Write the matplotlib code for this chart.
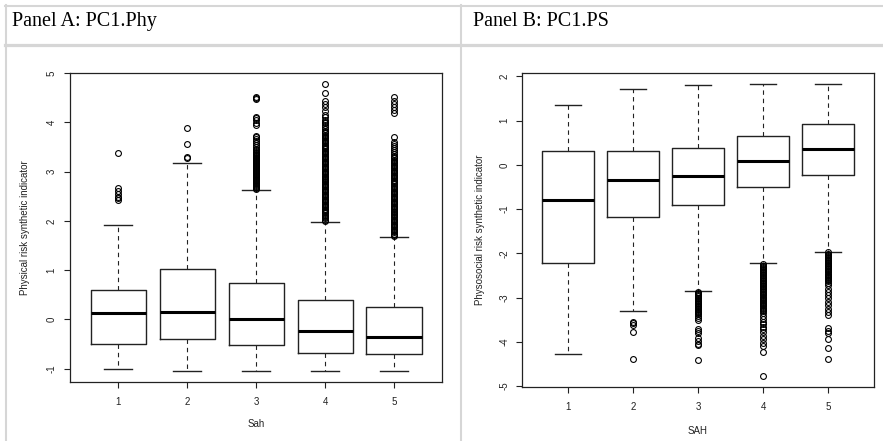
import matplotlib
matplotlib.use("Agg")
import matplotlib.pyplot as plt
from matplotlib.lines import Line2D

plt.rcParams['font.family'] = ['Liberation Sans', 'DejaVu Sans']

# ---- data: box statistics ----
groups = [1, 2, 3, 4, 5]

# Panel A: PC1.Phy
phy_q1 = [-0.50, -0.40, -0.53, -0.68, -0.71]
phy_med = [0.13, 0.14, 0.01, -0.24, -0.36]
phy_q3 = [0.60, 1.03, 0.73, 0.40, 0.24]
phy_lo = [-1.00, -1.05, -1.05, -1.05, -1.05]
phy_hi = [1.91, 3.17, 2.62, 1.98, 1.67]
phy_fliers = [
    [2.43, 2.46, 2.49, 2.55, 2.60, 2.66, 3.37],
    [3.27, 3.30, 3.56, 3.88],
    [2.64, 2.66, 2.68, 2.70, 2.72, 2.74, 2.76, 2.78, 2.80, 2.82, 2.84, 2.86,
     2.88, 2.90, 2.92, 2.94, 2.96, 2.98, 3.00, 3.02, 3.04, 3.06, 3.08, 3.10,
     3.12, 3.14, 3.16, 3.18, 3.20, 3.22, 3.24, 3.26, 3.28, 3.30, 3.32, 3.34,
     3.36, 3.38, 3.40, 3.43, 3.46, 3.50, 3.54, 3.58, 3.62, 3.66, 3.70, 3.72,
     3.95, 3.99, 4.04, 4.08, 4.11, 4.48, 4.50, 4.52],
    [2.00, 2.02, 2.05, 2.08, 2.10, 2.12, 2.15, 2.18, 2.20, 2.22, 2.25, 2.28,
     2.30, 2.32, 2.35, 2.38, 2.40, 2.42, 2.45, 2.48, 2.50, 2.52, 2.55, 2.58,
     2.60, 2.62, 2.65, 2.68, 2.70, 2.72, 2.75, 2.78, 2.80, 2.82, 2.85, 2.88,
     2.90, 2.92, 2.95, 2.98, 3.00, 3.02, 3.05, 3.08, 3.10, 3.12, 3.15, 3.18,
     3.20, 3.22, 3.25, 3.28, 3.30, 3.32, 3.35, 3.38, 3.40, 3.42, 3.45, 3.48,
     3.50, 3.52, 3.55, 3.58, 3.60, 3.62, 3.65, 3.68, 3.70, 3.72, 3.75, 3.78,
     3.80, 3.83, 3.86, 3.90, 3.94, 3.98, 4.01, 4.04, 4.12, 4.16, 4.23, 4.31,
     4.37, 4.43, 4.59, 4.78],
    [1.69, 1.71, 1.74, 1.77, 1.79, 1.81, 1.84, 1.87, 1.89, 1.91, 1.94, 1.97,
     1.99, 2.01, 2.04, 2.07, 2.09, 2.11, 2.14, 2.17, 2.19, 2.21, 2.24, 2.27,
     2.29, 2.31, 2.34, 2.37, 2.39, 2.41, 2.44, 2.47, 2.49, 2.51, 2.54, 2.57,
     2.59, 2.61, 2.64, 2.67, 2.69, 2.71, 2.74, 2.77, 2.79, 2.81, 2.84, 2.87,
     2.89, 2.91, 2.94, 2.97, 2.99, 3.01, 3.04, 3.07, 3.09, 3.11, 3.14, 3.17,
     3.19, 3.21, 3.24, 3.27, 3.29, 3.32, 3.36, 3.40, 3.44, 3.48, 3.52, 3.56,
     3.60, 3.71, 4.20, 4.26, 4.32, 4.38, 4.44, 4.52],
]

# Panel B: PC1.PS
ps_q1 = [-2.22, -1.18, -0.90, -0.50, -0.23]
ps_med = [-0.80, -0.35, -0.26, 0.08, 0.37]
ps_q3 = [0.32, 0.32, 0.38, 0.65, 0.92]
ps_lo = [-4.27, -3.30, -2.85, -2.23, -1.96]
ps_hi = [1.35, 1.72, 1.81, 1.83, 1.84]
ps_fliers = [
    [],
    [-3.55, -3.58, -3.61, -3.79, -4.40],
    [-2.87, -2.90, -2.92, -2.95, -2.97, -3.00, -3.02, -3.05, -3.07, -3.10,
     -3.12, -3.15, -3.17, -3.20, -3.22, -3.25, -3.27, -3.30, -3.32, -3.35,
     -3.37, -3.42, -3.46, -3.50, -3.72, -3.76, -3.80, -3.92, -3.98, -4.05,
     -4.08, -4.42],
    [-2.25, -2.28, -2.30, -2.33, -2.35, -2.38, -2.40, -2.43, -2.45, -2.48,
     -2.50, -2.53, -2.55, -2.58, -2.60, -2.63, -2.65, -2.68, -2.70, -2.73,
     -2.75, -2.78, -2.80, -2.83, -2.85, -2.88, -2.90, -2.93, -2.95, -2.98,
     -3.00, -3.03, -3.05, -3.08, -3.10, -3.13, -3.15, -3.18, -3.20, -3.23,
     -3.25, -3.28, -3.30, -3.36, -3.42, -3.48, -3.55, -3.60, -3.66, -3.72,
     -3.78, -3.86, -3.94, -4.02, -4.10, -4.24, -4.77],
    [-1.98, -2.01, -2.03, -2.06, -2.08, -2.11, -2.13, -2.16, -2.18, -2.21,
     -2.23, -2.26, -2.28, -2.31, -2.33, -2.36, -2.38, -2.41, -2.43, -2.46,
     -2.48, -2.51, -2.53, -2.56, -2.58, -2.61, -2.63, -2.67, -2.72, -2.80,
     -2.88, -2.95, -3.02, -3.10, -3.18, -3.25, -3.32, -3.40, -3.70, -3.76,
     -3.80, -3.94, -4.15, -4.40],
]

panel_titles = ["Panel A: PC1.Phy", "Panel B: PC1.PS"]
ylabels = ["Physical risk synthetic indicator", "Physosocial risk synthetic indicator"]
xlabels = ["Sah", "SAH"]
yticks = [[-1, 0, 1, 2, 3, 4, 5], [-5, -4, -3, -2, -1, 0, 1, 2]]


def make_stats(q1, med, q3, lo, hi, fl):
    return [dict(q1=a, med=b, q3=c, whislo=d, whishi=e, fliers=f)
            for a, b, c, d, e, f in zip(q1, med, q3, lo, hi, fl)]


stats = [make_stats(phy_q1, phy_med, phy_q3, phy_lo, phy_hi, phy_fliers),
         make_stats(ps_q1, ps_med, ps_q3, ps_lo, ps_hi, ps_fliers)]

W, H = 883, 441
fig = plt.figure(figsize=(W / 100, H / 100), dpi=100)

# axes boxes in pixels: left, top, right, bottom
boxes_px = [(70, 72.7, 442.3, 382.3), (522.4, 72.9, 873.6, 387.3)]
ylims = [(-1.28, 5.01), (-5.03, 2.08)]
xlabel_y = [-0.136, -0.138]

ink = '#222222'
for i in range(2):
    l, t, r, b = boxes_px[i]
    ax = fig.add_axes([l / W, 1 - b / H, (r - l) / W, (b - t) / H])
    ax.bxp(stats[i], positions=groups, widths=0.8, capwidths=0.4,
           boxprops=dict(color=ink, lw=1.0),
           medianprops=dict(color='black', lw=2.2, solid_capstyle='butt'),
           whiskerprops=dict(color=ink, lw=0.8, linestyle=(0, (4, 3.5))),
           capprops=dict(color=ink, lw=1.0),
           flierprops=dict(marker='o', markerfacecolor='none',
                           markeredgecolor='black', markersize=4.2,
                           markeredgewidth=0.8))
    ax.set_xlim(0.3, 5.7)
    ax.set_ylim(*ylims[i])
    ax.set_xticks(groups)
    ax.set_xticklabels([str(g) for g in groups])
    ax.set_yticks(yticks[i])
    ax.set_yticklabels([str(v) for v in yticks[i]], rotation=90, va='center')
    ax.tick_params(length=4.5, width=0.8, color=ink, labelsize=7,
                   labelcolor=ink)
    ax.tick_params(axis='y', pad=5)
    ax.tick_params(axis='x', pad=6)
    for s in ax.spines.values():
        s.set_color(ink)
        s.set_linewidth(0.9)
    ax.set_xlabel(xlabels[i], fontsize=7, color=ink)
    ax.xaxis.label.set_va('center')
    ax.xaxis.set_label_coords(0.5, xlabel_y[i])
    ax.set_ylabel(ylabels[i], fontsize=7, color=ink)
    ax.yaxis.label.set_va('center')
    ax.yaxis.set_label_coords(-0.121, 0.5)

# table frame around the two panels
grid = '#d6d6d6'
fig.add_artist(Line2D([5 / W, 1], [1 - 5.5 / H] * 2, color=grid, lw=1.5))
fig.add_artist(Line2D([5 / W, 1], [1 - 44.5 / H] * 2, color=grid, lw=2.3))
fig.add_artist(Line2D([5.5 / W] * 2, [0, 1 - 5 / H], color=grid, lw=1.5))
fig.add_artist(Line2D([461 / W] * 2, [0, 1 - 5 / H], color=grid, lw=1.5))

for x0, title in zip([12, 473], panel_titles):
    fig.text(x0 / W, 1 - 26 / H, title, family='Liberation Serif',
             fontsize=14.5, va='baseline', ha='left', color='black')

fig.savefig("out.png", dpi=100)
